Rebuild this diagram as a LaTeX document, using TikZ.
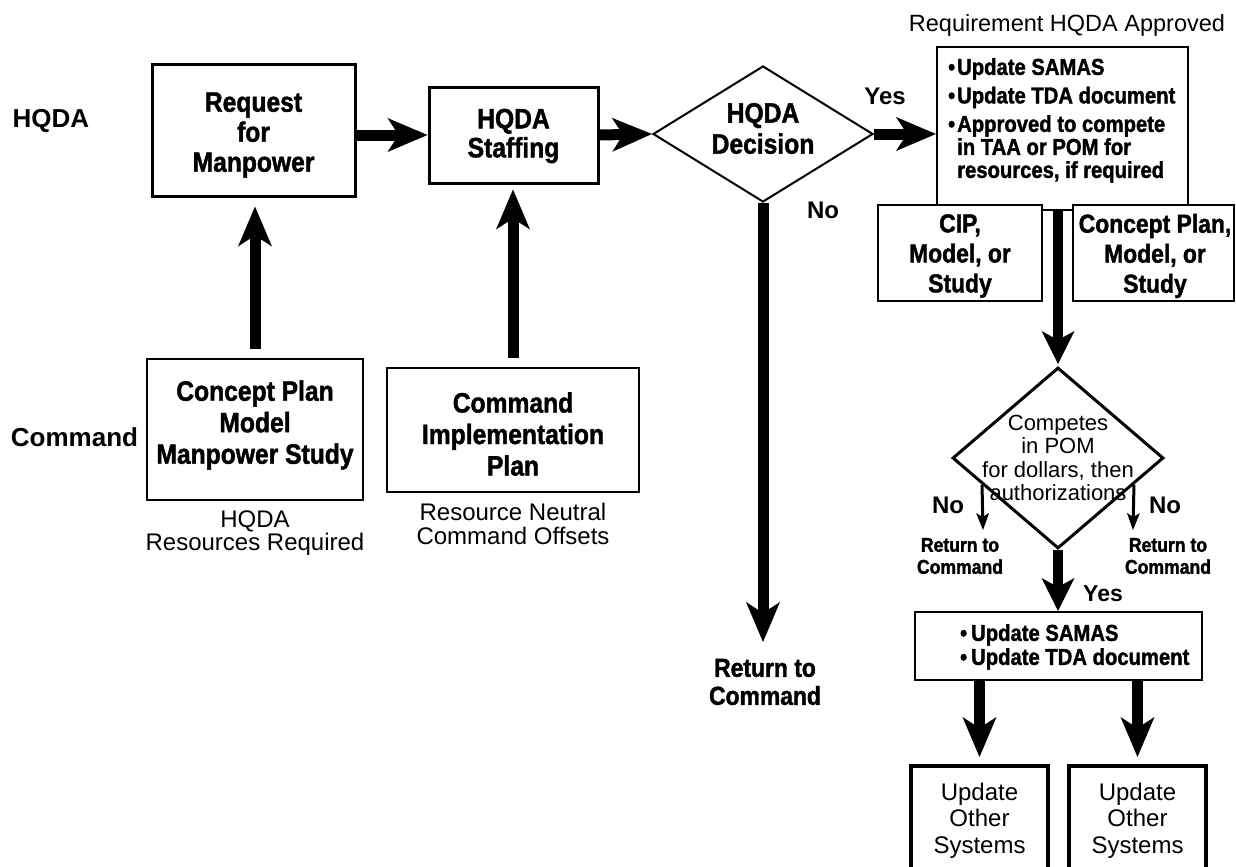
\documentclass[tikz,border=0pt]{standalone}
\usepackage{fontspec}
\setmainfont{Liberation Sans}
\newfontfamily\cndfont[FakeStretch=0.88,FakeBold=1.5]{Liberation Sans}
\usetikzlibrary{arrows.meta,shapes.geometric,calc}
\tikzset{
  boxA/.style={draw, fill=white, line width=3bp, inner sep=0pt},
  boxB/.style={draw, fill=white, line width=2.5bp, inner sep=0pt},
  boxC/.style={draw, fill=white, line width=2bp, inner sep=0pt},
  boxD/.style={draw, fill=white, line width=4bp, inner sep=0pt},
  dia/.style={diamond, draw, fill=white, inner sep=0pt},
  cnd/.style 2 args={font=\cndfont\bfseries\fontsize{#1bp}{#2bp}\selectfont, align=center, inner sep=0pt},
  reg/.style 2 args={font=\fontsize{#1bp}{#2bp}\selectfont, align=center, inner sep=0pt},
  bld/.style 2 args={font=\bfseries\fontsize{#1bp}{#2bp}\selectfont, align=center, inner sep=0pt},
  bigarrow/.style={line width=11bp, -{Stealth[length=40bp,width=34bp,inset=11bp,line width=0pt]}},
  midarrow/.style={line width=10bp, -{Stealth[length=33bp,width=33bp,inset=9bp,line width=0pt]}},
  smallarrow/.style={line width=3bp, -{Stealth[length=17bp,width=13bp,inset=4bp,line width=0pt]}},
}
\begin{document}
\begin{tikzpicture}[x=1bp,y=-1bp]
\useasboundingbox (0,0) rectangle (1236,867);
\fill[white] (0,0) rectangle (1236,867);
\clip (0,0) rectangle (1236,867);

% row labels
\node[bld={26}{30}] (lhqda) at (51,121) {HQDA};
\node[bld={26}{30}] (lcmd) at (74.5,437) {Command};

% left part
\node[boxA, minimum width=203bp, minimum height=131bp] (req) at (253.5,130.5) {};
\node[cnd={28}{30}] (reqt) at (253.5,135) {Request\\for\\Manpower};
\node[boxA, minimum width=169bp, minimum height=96bp] (staff) at (513.5,135) {};
\node[cnd={28}{29}] (stafft) at (513.5,136) {HQDA\\Staffing};
\node[dia, line width=2bp, minimum width=220bp, minimum height=136bp] (dec) at (763,134) {};
\node[cnd={28}{31}] (dect) at (763,128.5) {HQDA\\Decision};

\node[boxB, minimum width=216bp, minimum height=141bp] (cp) at (255,429.5) {};
\node[cnd={28}{31.5}] (cpt) at (255,425) {Concept Plan\\Model\\Manpower Study};
\node[reg={24}{23}] (cpcap) at (255,533) {HQDA\\Resources Required};
\node[boxB, minimum width=252bp, minimum height=124bp] (cmdimp) at (513,430) {};
\node[cnd={28}{31.5}] (cmdimpt) at (513,434) {Command\\Implementation\\Plan};
\node[reg={24}{24}] (cmdimpcap) at (513,524) {Resource Neutral\\Command Offsets};

% top right
\node[reg={23.5}{26}] (approved) at (1067,25) {Requirement HQDA Approved};
\node[boxC, minimum width=251bp, minimum height=163bp] (top) at (1062.5,128.5) {};
\node[cnd={23}{23}, align=left, anchor=north west] (topt) at (957,58)
  {\llap{\textbullet\hspace{2bp}}Update SAMAS\\[5.5bp]\llap{\textbullet\hspace{2bp}}Update TDA document\\[5.5bp]\llap{\textbullet\hspace{2bp}}Approved to compete\\in TAA or POM for\\resources, if required};
\node[boxC, minimum width=164bp, minimum height=96bp] (cipbox) at (960,253) {};
\node[cnd={26}{30}] (cipboxt) at (960,256) {CIP,\\Model, or\\Study};
\node[boxC, minimum width=161bp, minimum height=96bp] (cpbox) at (1153.5,253) {};
\node[cnd={26}{30}] (cpboxt) at (1155,256) {Concept Plan,\\Model, or\\Study};

% lower right
\node[dia, line width=3bp, minimum width=211bp, minimum height=181bp] (dia2) at (1058,458) {};
\node[reg={22}{23.5}] (dia2t) at (1058,458) {Competes\\in POM\\for dollars, then\\authorizations};

\node[bld={24}{28}] (yes1) at (885,96) {Yes};
\node[bld={24}{28}] (no1) at (823,210) {No};
\node[cnd={26}{28}] (ret1) at (765,682) {Return to\\Command};
\node[bld={24}{28}] (no2) at (948,505) {No};
\node[bld={24}{28}] (no3) at (1165,505) {No};
\node[cnd={20}{22}] (ret2) at (960,556) {Return to\\Command};
\node[cnd={20}{22}] (ret3) at (1168,556) {Return to\\Command};
\node[bld={23}{28}] (yes2) at (1103,594) {Yes};

\node[boxC, minimum width=287bp, minimum height=68bp] (box2) at (1058.5,646) {};
\node[cnd={23}{24}, align=left, anchor=north west] (box2t) at (971,624)
  {\llap{\textbullet\hspace{4bp}}Update SAMAS\\\llap{\textbullet\hspace{4bp}}Update TDA document};

\node[boxD, minimum width=137bp, minimum height=120bp, anchor=north] (ous1) at (979.5,764) {};
\node[boxD, minimum width=137bp, minimum height=120bp, anchor=north] (ous2) at (1137.5,764) {};
\node[reg={24}{26.5}] (ous1t) at (979.5,820.5) {Update\\Other\\Systems};
\node[reg={24}{26.5}] (ous2t) at (1137.5,820.5) {Update\\Other\\Systems};

% connectors
\coordinate (rettip) at (763,642);
\coordinate (n1tip) at (983,530);
\coordinate (n2tip) at (1133,530);
\draw[bigarrow] (req.east |- staff.west) -- (staff.west);
\draw[bigarrow] (staff.east) -- (dec.west);
\draw[bigarrow] (dec.east) -- (top.west |- dec.east);
\draw[bigarrow] (dec.south) -- (rettip);
\draw[bigarrow, shorten <=9bp, shorten >=9bp] (cp.north) -- (cp.north |- req.south);
\draw[bigarrow, shorten <=9bp, shorten >=5bp] (cmdimp.north) -- (cmdimp.north |- staff.south);
\draw[midarrow, shorten >=2bp] (top.south -| dia2.north) -- (dia2.north);
\draw[midarrow] (dia2.south) -- (box2.north -| dia2.south);
\draw[smallarrow] ($(dia2.west)!0.29!(dia2.south)$) -- (n1tip);
\draw[smallarrow] ($(dia2.east)!0.29!(dia2.south)$) -- (n2tip);
\draw[bigarrow, shorten >=7bp] (box2.south -| ous1.north) -- (ous1.north);
\draw[bigarrow, shorten >=7bp] (box2.south -| ous2.north) -- (ous2.north);
\end{tikzpicture}
\end{document}
